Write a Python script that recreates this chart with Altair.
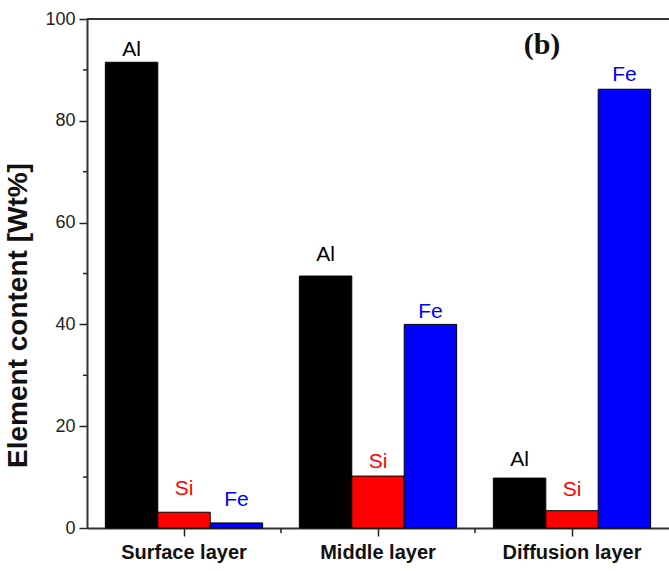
import altair as alt
import pandas as pd

layers = ["Surface layer", "Middle layer", "Diffusion layer"]
elements = ["Al", "Si", "Fe"]
al_values = [91.5, 49.5, 9.8]
si_values = [3.1, 10.2, 3.4]
fe_values = [1.0, 40.0, 86.2]
# label anchor heights (data units)
al_label_y = [93.9, 53.6, 13.4]
si_label_y = [7.7, 13.0, 7.5]
fe_label_y = [5.5, 42.5, 89.0]
y_ticks = [0, 20, 40, 60, 80, 100]
y_minor = [10, 30, 50, 70, 90]

rows = []
for i, lay in enumerate(layers):
    for el, vals, labs in (("Al", al_values, al_label_y),
                           ("Si", si_values, si_label_y),
                           ("Fe", fe_values, fe_label_y)):
        rows.append({"layer": lay, "element": el, "value": vals[i], "label_y": labs[i]})
df = pd.DataFrame(rows)

W, H = 582, 509
xscale = alt.Scale(domain=layers, paddingInner=0, paddingOuter=0)
offscale = alt.Scale(domain=elements, paddingInner=0, paddingOuter=0.35)
yscale = alt.Scale(domain=[0, 100], nice=False)

bar_colors = alt.Scale(domain=elements, range=["#000000", "#ff0000", "#0000ff"])
label_colors = alt.Scale(domain=elements, range=["#111111", "#e8262a", "#2424d8"])

bars = alt.Chart(df).mark_bar(stroke="black", strokeWidth=1).encode(
    x=alt.X("layer:N", scale=xscale, sort=layers,
            axis=alt.Axis(title=None, labelAngle=0, labelFont="Liberation Sans",
                          labelFontWeight="bold", labelFontSize=20, labelColor="#111",
                          labelPadding=6, tickSize=8, tickWidth=1.5, tickColor="#222",
                          domainColor="#333", domainWidth=2)),
    xOffset=alt.XOffset("element:N", scale=offscale, sort=elements),
    y=alt.Y("value:Q", scale=yscale,
            axis=alt.Axis(title="Element content [Wt%]", values=y_ticks, grid=False,
                          labelFont="Liberation Sans", labelFontSize=18, labelColor="#222",
                          labelPadding=4, tickSize=8, tickWidth=1.5, tickColor="#222",
                          domainColor="#333", domainWidth=2,
                          titleFont="Liberation Sans", titleFontWeight="bold",
                          titleFontSize=28, titleColor="#111",
                          titleX=-55, titleY=296)),
    color=alt.Color("element:N", scale=bar_colors, legend=None),
)

labels = alt.Chart(df).mark_text(font="Liberation Sans", fontSize=21, baseline="middle").encode(
    x=alt.X("layer:N", scale=xscale, sort=layers),
    xOffset=alt.XOffset("element:N", scale=offscale, sort=elements),
    y=alt.Y("label_y:Q", scale=yscale),
    text="element:N",
    color=alt.Color("element:N", scale=label_colors, legend=None),
)

minor_y = alt.Chart(pd.DataFrame({"v": y_minor})).mark_rule(color="#222", strokeWidth=1.5).encode(
    y=alt.Y("v:Q", scale=yscale),
    x=alt.value(-4), x2=alt.value(0),
)

minor_x = alt.Chart(pd.DataFrame({"layer": layers[1:]})).mark_rule(color="#222", strokeWidth=1.5).encode(
    x=alt.X("layer:N", scale=xscale, sort=layers, bandPosition=0),
    y=alt.value(H), y2=alt.value(H + 5),
)

top_line = alt.Chart(pd.DataFrame({"t": [100]})).mark_rule(color="#333", strokeWidth=2).encode(
    y=alt.Y("t:Q", scale=yscale),
)

panel = alt.Chart(pd.DataFrame({"t": ["(b)"]})).mark_text(
    font="Liberation Serif", fontWeight="bold", fontSize=30, color="#111", baseline="middle"
).encode(x=alt.value(455), y=alt.value(26), text="t:N")

chart = alt.layer(bars, labels, minor_y, minor_x, top_line, panel).properties(
    width=W, height=H,
    autosize=alt.AutoSizeParams(type="none"),
    padding={"left": 87, "top": 19, "right": 0, "bottom": 43},
    background="white",
).configure_view(stroke=None)

chart.save("out.html", embed_options={"renderer": "svg", "actions": False})
